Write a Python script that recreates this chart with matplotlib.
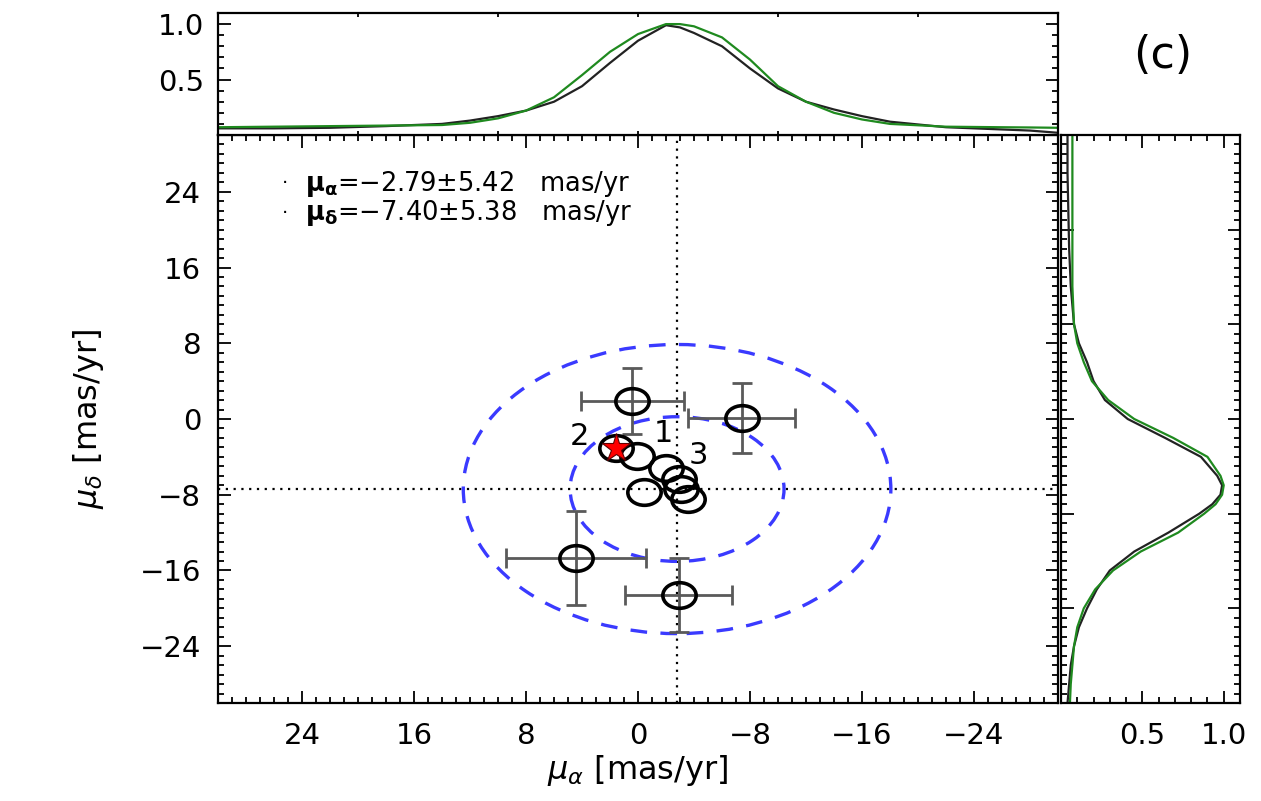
import numpy as np
import matplotlib
matplotlib.use('Agg')
import matplotlib.pyplot as plt
from matplotlib.path import Path
from matplotlib.patches import Circle
from matplotlib.ticker import MultipleLocator

# ---------------- data ----------------
# stars with error bars
err_ra_pts = [0.4, -7.4, 4.4, -2.9]
err_dec_pts = [1.9, 0.1, -14.7, -18.6]
err_ra = [3.7, 3.8, 5.0, 3.8]
err_dec = [3.5, 3.7, 5.0, 3.9]
# clustered stars (no visible error bars)
clu_ra = [1.6, 0.1, -0.4, -2.0, -2.9, -3.1, -3.6]
clu_dec = [-3.1, -3.9, -7.7, -5.2, -6.3, -7.4, -8.4]
# highlighted star
star_ra = [1.6]
star_dec = [-3.1]
# numbered labels
num_labels = ['2', '1', '3']
num_ra = [4.2, -1.8, -4.3]
num_dec = [-1.8, -1.5, -3.9]
# mean and dispersion
mean_ra, sig_ra = -2.79, 5.42
mean_dec, sig_dec = -7.40, 5.38
circle_radii = [7.64, 15.27]

# marginal distribution of mu_alpha (top panel)
top_x = [30, 26, 22, 18, 14, 12, 10, 8, 6, 4, 2, 0, -2, -3, -4, -6, -8, -10, -12, -14, -16, -18, -22, -26, -28, -30]
top_green = [0.07, 0.075, 0.08, 0.085, 0.09, 0.11, 0.15, 0.22, 0.34, 0.54, 0.75, 0.91, 1.0, 1.0, 0.98, 0.88, 0.68, 0.44, 0.30, 0.20, 0.14, 0.10, 0.075, 0.07, 0.068, 0.065]
top_black = [0.06, 0.06, 0.065, 0.08, 0.10, 0.13, 0.17, 0.22, 0.30, 0.44, 0.65, 0.85, 0.99, 0.97, 0.92, 0.80, 0.60, 0.42, 0.30, 0.23, 0.17, 0.12, 0.07, 0.05, 0.04, 0.02]

# marginal distribution of mu_delta (right panel)
right_y = [30, 26, 22, 18, 14, 10, 8, 6, 4, 2, 0, -2, -4, -6, -7, -8, -9, -10, -12, -14, -16, -18, -20, -22, -24, -26, -28, -30]
right_green = [0.07, 0.07, 0.07, 0.07, 0.07, 0.08, 0.10, 0.14, 0.19, 0.29, 0.45, 0.69, 0.90, 0.98, 1.0, 0.99, 0.95, 0.88, 0.72, 0.49, 0.32, 0.21, 0.14, 0.10, 0.08, 0.07, 0.06, 0.055]
right_black = [0.04, 0.04, 0.045, 0.05, 0.06, 0.08, 0.11, 0.16, 0.20, 0.27, 0.41, 0.64, 0.86, 0.96, 0.99, 0.98, 0.93, 0.85, 0.66, 0.45, 0.30, 0.22, 0.16, 0.11, 0.08, 0.06, 0.05, 0.04]

# ---------------- figure ----------------
plt.rcParams['font.family'] = ['DejaVu Sans']
plt.rcParams['mathtext.fontset'] = 'dejavusans'
W, H = 1261, 801
fig = plt.figure(figsize=(W / 100, H / 100), dpi=100)

def fx(px):
    return px / W

def fy(py):
    return 1 - py / H

L, R = 218, 1058
T, B = 135, 703
ax = fig.add_axes([fx(L), fy(B), fx(R) - fx(L), fy(T) - fy(B)])
axt = fig.add_axes([fx(L), fy(T), fx(R) - fx(L), fy(13) - fy(T)])
axr = fig.add_axes([fx(1061), fy(B), fx(1240) - fx(1061), fy(T) - fy(B)])

tick_fs = 21
for a in (ax, axt, axr):
    for s in a.spines.values():
        s.set_linewidth(1.6)
    a.tick_params(which='both', direction='in', top=True, right=True, width=1.3)
    a.tick_params(which='major', length=9, labelsize=tick_fs)
    a.tick_params(which='minor', length=4.5)

# ---- main panel ----
ax.set_xlim(30, -30)
ax.set_ylim(-30, 30)
ax.xaxis.set_major_locator(MultipleLocator(8))
ax.xaxis.set_minor_locator(MultipleLocator(1))
ax.yaxis.set_major_locator(MultipleLocator(8))
ax.yaxis.set_minor_locator(MultipleLocator(1))
ax.tick_params(axis='x', pad=14)
ax.tick_params(axis='y', pad=12)

ax.axvline(mean_ra, color='black', ls=(0, (1, 2.5)), lw=1.6, zorder=1)
ax.axhline(mean_dec, color='black', ls=(0, (1, 2.5)), lw=1.6, zorder=1)

for r in circle_radii:
    ax.add_patch(Circle((mean_ra, mean_dec), r, fill=False, edgecolor='#3a3aff',
                        lw=2.4, ls=(0, (5, 4)), zorder=2))

ell = Path.unit_circle()
ell_marker = Path(ell.vertices * np.array([1.3, 1.0]), ell.codes)

ax.errorbar(err_ra_pts, err_dec_pts, xerr=err_ra, yerr=err_dec, fmt='none',
            ecolor='#5a5a5a', elinewidth=2.0, capsize=7, capthick=2.0, zorder=3)
ax.plot(err_ra_pts, err_dec_pts, ls='none', marker=ell_marker, ms=24,
        mfc='none', mec='black', mew=2.6, zorder=4)
ax.plot(clu_ra, clu_dec, ls='none', marker=ell_marker, ms=24,
        mfc='none', mec='black', mew=2.6, zorder=4)
ax.plot(star_ra, star_dec, ls='none', marker='*', ms=21, mfc='red',
        mec='#600000', mew=0.8, zorder=5)
for t, x, y in zip(num_labels, num_ra, num_dec):
    ax.text(x, y, t, fontsize=22, ha='center', va='center', zorder=6)

row_y = [0.914, 0.862]
ax.text(0.08, row_y[0], '·', transform=ax.transAxes, fontsize=14, va='center', ha='center')
ax.text(0.08, row_y[1], '·', transform=ax.transAxes, fontsize=14, va='center', ha='center')
ax.text(0.103, row_y[0], r'$\mathbf{\mu_\alpha}$=$-$%.2f$\pm$%.2f   mas/yr' % (-mean_ra, sig_ra),
        transform=ax.transAxes, fontsize=18.5, va='center', ha='left')
ax.text(0.103, row_y[1], r'$\mathbf{\mu_\delta}$=$-$%.2f$\pm$%.2f   mas/yr' % (-mean_dec, sig_dec),
        transform=ax.transAxes, fontsize=18.5, va='center', ha='left')

ax.set_xlabel(r'$\mu_\alpha$ [mas/yr]', fontsize=23, labelpad=2)
ax.set_ylabel(r'$\mu_\delta$ [mas/yr]', fontsize=23, labelpad=24)

# ---- top panel ----
axt.plot(top_x, top_black, color='#222222', lw=1.6)
axt.plot(top_x, top_green, color='#1f8a1f', lw=1.6)
axt.set_xlim(30, -30)
axt.set_ylim(0, 1.1)
axt.xaxis.set_major_locator(MultipleLocator(10))
axt.xaxis.set_minor_locator(MultipleLocator(10))
axt.yaxis.set_major_locator(MultipleLocator(0.5))
axt.yaxis.set_minor_locator(MultipleLocator(0.1))
axt.set_yticks([0.5, 1.0])
axt.set_yticklabels(['0.5', '1.0'])
axt.tick_params(axis='x', labelbottom=False, length=3)
axt.tick_params(axis='y', pad=10)

# ---- right panel ----
axr.plot(right_black, right_y, color='#222222', lw=1.6)
axr.plot(right_green, right_y, color='#1f8a1f', lw=1.6)
axr.set_ylim(-30, 30)
axr.set_xlim(0, 1.1)
axr.set_xticks([0.5, 1.0])
axr.set_xticklabels(['0.5', '1.0'])
axr.xaxis.set_minor_locator(MultipleLocator(0.1))
axr.yaxis.set_major_locator(MultipleLocator(10))
axr.yaxis.set_minor_locator(MultipleLocator(1))
axr.tick_params(axis='y', labelleft=False)
axr.tick_params(axis='x', pad=14)

fig.text(fx(1163), fy(55), '(c)', fontsize=32, ha='center', va='center')

fig.savefig('out.png', dpi=100)
